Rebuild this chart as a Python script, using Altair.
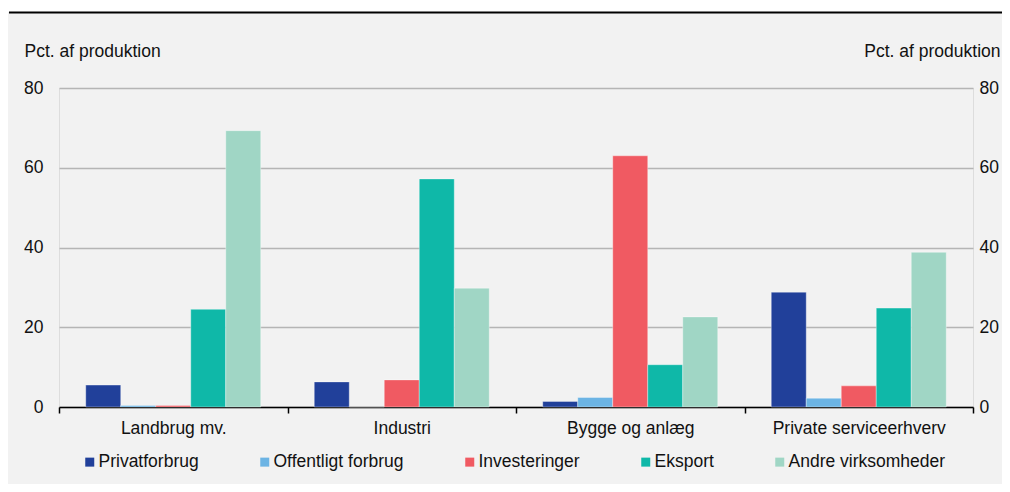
import altair as alt
import pandas as pd

categories = ["Landbrug mv.", "Industri", "Bygge og anlæg", "Private serviceerhverv"]
series = ["Privatforbrug", "Offentligt forbrug", "Investeringer", "Eksport", "Andre virksomheder"]
colors = ["#21409a", "#6cb4e4", "#f05a62", "#0fb8a8", "#a0d6c5"]

privatforbrug = [5.5, 6.3, 1.4, 28.8]
offentligt = [0.4, 0.0, 2.4, 2.2]
investeringer = [0.4, 6.8, 63.0, 5.3]
eksport = [24.5, 57.2, 10.6, 24.8]
andre = [69.3, 29.8, 22.6, 38.8]

y_ticks = [0, 20, 40, 60, 80]
y_title = "Pct. af produktion"

rows = []
for s, vals in zip(series, [privatforbrug, offentligt, investeringer, eksport, andre]):
    for c, v in zip(categories, vals):
        rows.append({"kategori": c, "serie": s, "værdi": v})
df = pd.DataFrame(rows)

W, H = 914, 319
PR = 29
FONT = "Liberation Sans"
FS = 17.5

x_enc = alt.X(
    "kategori:N", sort=categories,
    scale=alt.Scale(paddingInner=0, paddingOuter=0),
    axis=alt.Axis(title=None, tickBand="extent", labelAngle=0, domainColor="#000000",
                  domainWidth=1.5, tickColor="#000000", tickWidth=1.5, tickSize=6,
                  labelPadding=6, labelFontSize=FS, labelColor="#111111", grid=False),
)
xo_enc = alt.XOffset("serie:N", sort=series, scale=alt.Scale(paddingInner=0, paddingOuter=0.764))
color_enc = alt.Color(
    "serie:N", sort=series,
    scale=alt.Scale(domain=series, range=colors),
    legend=alt.Legend(title=None, orient="none", direction="horizontal", legendX=22, legendY=365,
                      symbolType="square", symbolSize=81, symbolStrokeWidth=0,
                      labelFontSize=FS, labelColor="#111111", columnPadding=57, labelOffset=0),
)

left = alt.Chart(df).mark_bar(stroke="#ffffff", strokeWidth=0.6, strokeOpacity=0.6).encode(
    x=x_enc,
    xOffset=xo_enc,
    y=alt.Y("værdi:Q", scale=alt.Scale(domain=[0, 80]),
            axis=alt.Axis(title=y_title, orient="left", values=y_ticks, grid=True,
                          gridColor="#b5b5b5", gridWidth=1.5, domain=False, ticks=False,
                          labelPadding=16, labelFontSize=FS, labelColor="#111111",
                          titleAngle=0, titleX=-35, titleY=-32, titleAlign="left",
                          titleBaseline="alphabetic", titleFontSize=FS, titleFontWeight="normal",
                          titleColor="#111111")),
    color=color_enc,
)

right = alt.Chart(df).mark_bar(opacity=0).encode(
    x=x_enc,
    xOffset=xo_enc,
    y=alt.Y("værdi:Q", scale=alt.Scale(domain=[0, 80]),
            axis=alt.Axis(title=y_title, orient="right", values=y_ticks, grid=False,
                          domain=False, ticks=False,
                          labelPadding=6, labelFontSize=FS, labelColor="#111111",
                          titleAngle=0, titleX=PR - 2, titleY=-32, titleAlign="right",
                          titleBaseline="alphabetic", titleFontSize=FS, titleFontWeight="normal",
                          titleColor="#111111")),
)

top_white = alt.Chart(pd.DataFrame({"a": [0]})).mark_rect(color="#ffffff").encode(
    x=alt.value(-51), x2=alt.value(W + PR), y=alt.value(-80), y2=alt.value(-76)
)
top_rule = alt.Chart(pd.DataFrame({"a": [0]})).mark_rule(color="#000000", strokeWidth=2).encode(
    x=alt.value(-50), x2=alt.value(W + PR), y=alt.value(-75.5)
)

chart = alt.layer(top_white, top_rule, left, right).resolve_scale(y="independent").properties(
    width=W, height=H,
    autosize=alt.AutoSizeParams(type="none"),
    padding={"left": 51, "top": 80, "right": PR, "bottom": 77},
    background="#f2f2f2",
).configure_view(stroke=None).configure(font=FONT)

chart.save("out.html", embed_options={"renderer": "svg", "actions": False})
